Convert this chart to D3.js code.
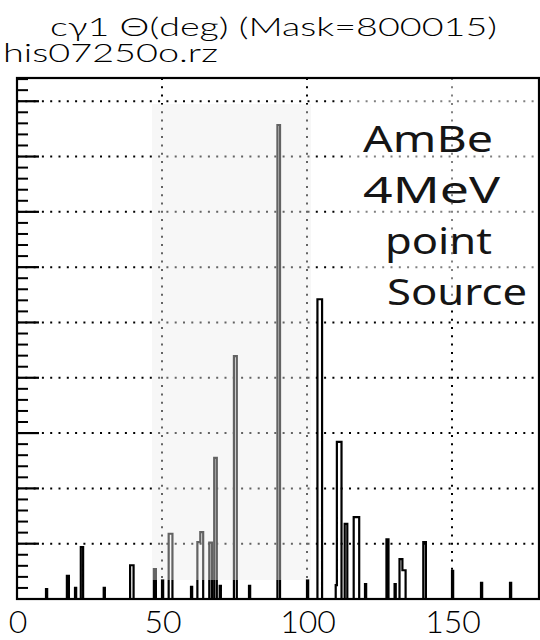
<!DOCTYPE html>
<html>
<head>
<meta charset="utf-8">
<script src="https://cdn.jsdelivr.net/npm/d3@7"></script>
<style>
  body { margin: 0; background: #fff; }
  svg { display: block; }
</style>
</head>
<body>
<div id="chart"></div>
<script>
// set the dimensions of the graph
const width = 540
const height = 640

// Data: histogram bins (degrees) and their contents
var binLo  = [10.0, 17.2, 20.0, 22.0, 29.9, 39.0, 47.2, 50.0, 52.3, 60.0, 62.2, 63.2, 66.3, 68.0, 69.9, 74.8, 80.0, 89.8, 100.0, 103.6, 109.9, 110.3, 113.0, 116.1, 120.0, 127.4, 130.2, 131.9, 132.9, 140.1, 150.0, 160.0, 170.0]
var binHi  = [10.4, 17.9, 20.4, 22.8, 30.3, 40.2, 47.9, 50.4, 53.6, 60.4, 63.2, 64.2, 67.2, 68.9, 70.3, 75.8, 80.4, 90.7, 100.4, 105.2, 110.3, 111.9, 113.9, 118.0, 120.4, 128.1, 130.6, 132.9, 134.0, 141.0, 150.4, 160.4, 170.4]
var counts = [1.8, 4.2, 2.0, 9.4, 2.0, 6.1, 5.4, 3.4, 11.8, 2.2, 10.3, 12.1, 10.2, 25.5, 2.4, 43.9, 2.4, 85.7, 3.4, 54.2, 2.5, 28.4, 13.6, 14.8, 2.7, 10.8, 2.7, 7.2, 5.2, 10.3, 5.1, 2.9, 2.9]

var xTicks = [0, 50, 100, 150]
var titleText = "cγ1 Θ(deg) (Mask=800015)"
var fileText = "his07250o.rz"
var noteLines = ["AmBe", "4MeV", "point", "Source"]

var svg = d3.select("#chart")
  .append("svg")
  .attr("width", width)
  .attr("height", height)

var x = d3.scaleLinear().domain([0, 180]).range([17, 539])
var y = d3.scaleLinear().domain([0, 94.2]).range([599, 78])

var majors = d3.range(10, 94, 10)
var minors = d3.range(2, 94.2, 2).filter(function(v){ return Math.round(v) % 10 != 0 })

// dotted grid
svg.append("g")
  .selectAll("line")
  .data(majors)
  .enter().append("line")
    .attr("x1", x(0)).attr("x2", x(180))
    .attr("y1", function(d){ return y(d) }).attr("y2", function(d){ return y(d) })
    .attr("stroke", "#000")
    .attr("stroke-width", 2)
    .attr("stroke-dasharray", "2,6.3")

svg.append("g")
  .selectAll("line")
  .data(xTicks.filter(function(d){ return d > 0 }))
  .enter().append("line")
    .attr("x1", function(d){ return x(d) }).attr("x2", function(d){ return x(d) })
    .attr("y1", y(94.2)).attr("y2", y(0))
    .attr("stroke", "#000")
    .attr("stroke-width", 2)
    .attr("stroke-dasharray", "2,6.3")

// histogram outline, PAW style
var pts = [[0, 0]]
var prevHi = null
for (var i = 0; i < binLo.length; i++) {
  if (prevHi !== null && Math.abs(binLo[i] - prevHi) < 1e-6) {
    pts.push([binLo[i], counts[i]])
  } else {
    if (prevHi !== null) pts.push([prevHi, 0])
    pts.push([binLo[i], 0])
    pts.push([binLo[i], counts[i]])
  }
  pts.push([binHi[i], counts[i]])
  prevHi = binHi[i]
}
pts.push([prevHi, 0])
pts.push([180, 0])

var line = d3.line()
  .x(function(d){ return x(d[0]) })
  .y(function(d){ return y(d[1]) })

svg.append("path")
  .datum(pts)
  .attr("d", line)
  .attr("fill", "none")
  .attr("stroke", "#000")
  .attr("stroke-width", 2.2)
  .attr("stroke-linejoin", "miter")

// scanned paper patches (lighter areas in the original)
svg.append("rect")
  .attr("x", 152).attr("y", 104)
  .attr("width", 159).attr("height", 476)
  .attr("fill", "#ececec")
  .attr("opacity", 0.42)

svg.append("path")
  .attr("d", "M333,0 L537,0 L537,300 L345,300 L343,90 Z")
  .attr("fill", "#fff")
  .attr("opacity", 0.5)

// frame
svg.append("rect")
  .attr("x", x(0)).attr("y", y(94.2))
  .attr("width", x(180) - x(0)).attr("height", y(0) - y(94.2))
  .attr("fill", "none")
  .attr("stroke", "#000")
  .attr("stroke-width", 2.2)

// y ticks, inside the frame
svg.append("g")
  .selectAll("line")
  .data(majors)
  .enter().append("line")
    .attr("x1", x(0)).attr("x2", x(0) + 22)
    .attr("y1", function(d){ return y(d) }).attr("y2", function(d){ return y(d) })
    .attr("stroke", "#000").attr("stroke-width", 2.2)

svg.append("g")
  .selectAll("line")
  .data(minors)
  .enter().append("line")
    .attr("x1", x(0)).attr("x2", x(0) + 11)
    .attr("y1", function(d){ return y(d) }).attr("y2", function(d){ return y(d) })
    .attr("stroke", "#000").attr("stroke-width", 2)

// x labels
svg.append("g")
  .selectAll("text")
  .data(xTicks)
  .enter().append("text")
    .attr("x", function(d){ return x(d) + 1 })
    .attr("y", 633)
    .attr("text-anchor", "middle")
    .style("font-family", "Lato, 'Liberation Sans', sans-serif")
    .style("font-weight", 300)
    .style("font-size", "32px")
    .text(function(d){ return d })

// titles
svg.append("text")
  .attr("x", 50).attr("y", 36)
  .attr("textLength", 447)
  .attr("lengthAdjust", "spacingAndGlyphs")
  .style("font-family", "Lato, 'Liberation Sans', sans-serif")
  .style("font-weight", 300)
  .style("font-size", "25px")
  .text(titleText)

svg.append("text")
  .attr("x", 3).attr("y", 62)
  .attr("textLength", 215)
  .attr("lengthAdjust", "spacingAndGlyphs")
  .style("font-family", "Lato, 'Liberation Sans', sans-serif")
  .style("font-weight", 300)
  .style("font-size", "25px")
  .text(fileText)

// handwritten note
var noteX = [363, 363, 385, 387]
var noteY = [152, 203, 254, 305]
var noteW = [130, 137, 107, 140]
svg.append("g")
  .selectAll("text")
  .data(noteLines)
  .enter().append("text")
    .attr("x", function(d, i){ return noteX[i] })
    .attr("y", function(d, i){ return noteY[i] })
    .attr("textLength", function(d, i){ return noteW[i] })
    .attr("lengthAdjust", "spacingAndGlyphs")
    .style("font-family", "'Noto Sans', sans-serif")
    .style("font-size", "37px")
    .style("fill", "#151515")
    .text(function(d){ return d })

</script>
</body>
</html>
